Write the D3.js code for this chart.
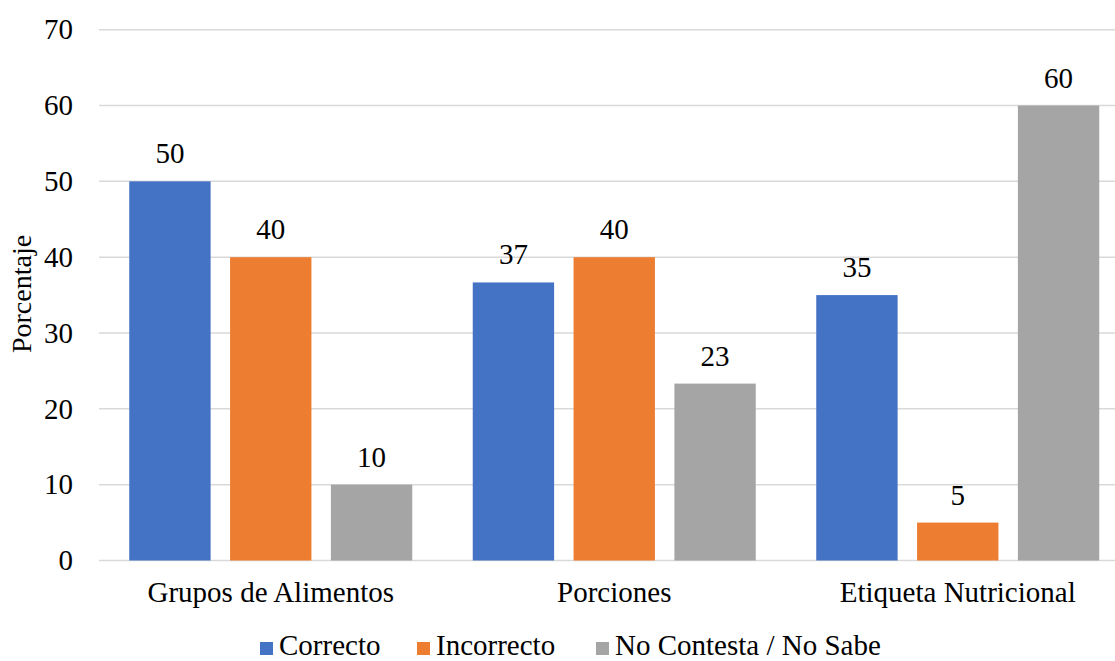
<!DOCTYPE html>
<html>
<head>
<meta charset="utf-8">
<script src="https://cdn.jsdelivr.net/npm/d3@7"></script>
<style>
  html, body { margin: 0; padding: 0; background: #fff; }
  svg { display: block; }
  svg text { font-family: "Liberation Serif", "Times New Roman", serif !important; fill: #000; }
</style>
</head>
<body>
<svg id="chart" width="1115" height="661"></svg>
<script>
const categories = ["Grupos de Alimentos", "Porciones", "Etiqueta Nutricional"];
const seriesNames = ["Correcto", "Incorrecto", "No Contesta / No Sabe"];
const correcto = [50, 36.67, 35];
const incorrecto = [40, 40, 5];
const noSabe = [10, 23.33, 60];
const yTicks = [0, 10, 20, 30, 40, 50, 60, 70];
const colors = ["#4472C4", "#ED7D31", "#A5A5A5"];

const seriesValues = [correcto, incorrecto, noSabe];
const FONT = "'Liberation Serif', 'Times New Roman', serif";
const FS = 29;

const svg = d3.select("#chart");
const x0 = d3.scaleBand().domain(categories).range([99, 1129.5]).padding(0);
const x1 = d3.scaleBand().domain(seriesNames)
  .range([30.25, x0.bandwidth() - 30.25]).paddingInner(0.193).paddingOuter(0);
const y = d3.scaleLinear().domain([0, 70]).range([560.5, 29.7]);

// gridlines
svg.append("g").selectAll("line").data(yTicks).join("line")
  .attr("x1", 99).attr("x2", 1115)
  .attr("y1", d => y(d)).attr("y2", d => y(d))
  .attr("stroke", "#D9D9D9").attr("stroke-width", 1.5);

// y axis labels
const yAxis = d3.axisLeft(y).tickValues(yTicks).tickSize(0).tickPadding(0);
const yg = svg.append("g").attr("transform", "translate(73,0)").call(yAxis)
  .attr("font-family", FONT).attr("font-size", FS);
yg.select(".domain").remove();
yg.selectAll("text").style("font-family", FONT).style("font-size", FS + "px")
  .attr("fill", "#000").attr("dy", "0.32em");

// bars
const groups = svg.append("g").selectAll("g").data(categories).join("g")
  .attr("transform", d => `translate(${x0(d)},0)`);

const cellData = (c, i) => seriesNames.map((s, j) => ({s, j, v: seriesValues[j][i]}));

groups.selectAll("rect").data(cellData)
  .join("rect")
  .attr("x", d => x1(d.s)).attr("width", x1.bandwidth())
  .attr("y", d => y(d.v)).attr("height", d => y(0) - y(d.v))
  .attr("fill", d => colors[d.j]);

groups.selectAll("text.val").data(cellData)
  .join("text").attr("class", "val")
  .attr("x", d => x1(d.s) + x1.bandwidth() / 2)
  .attr("y", d => y(d.v) - 18)
  .attr("text-anchor", "middle")
  .style("font-family", FONT).style("font-size", FS + "px")
  .text(d => Math.round(d.v));

// x axis labels
const xAxis = d3.axisBottom(x0).tickSize(0).tickPadding(0);
const xg = svg.append("g").attr("transform", "translate(0,602)").call(xAxis)
  .attr("font-family", FONT).attr("font-size", FS);
xg.select(".domain").remove();
xg.selectAll("text").style("font-family", FONT).style("font-size", FS + "px")
  .attr("fill", "#000").attr("dy", 0);

// y title
svg.append("text")
  .attr("transform", "translate(31,294) rotate(-90)")
  .attr("text-anchor", "middle")
  .style("font-family", FONT).style("font-size", "28px")
  .text("Porcentaje");

// legend
const legendX = [260, 417, 596];
const lg = svg.append("g").selectAll("g").data(seriesNames).join("g")
  .attr("transform", (d, i) => `translate(${legendX[i]},0)`);
lg.append("rect").attr("x", 0).attr("y", 642).attr("width", 13).attr("height", 13)
  .attr("fill", (d, i) => colors[i]);
lg.append("text").attr("x", 19).attr("y", 655)
  .style("font-family", FONT).style("font-size", FS + "px").text(d => d);
</script>
</body>
</html>
